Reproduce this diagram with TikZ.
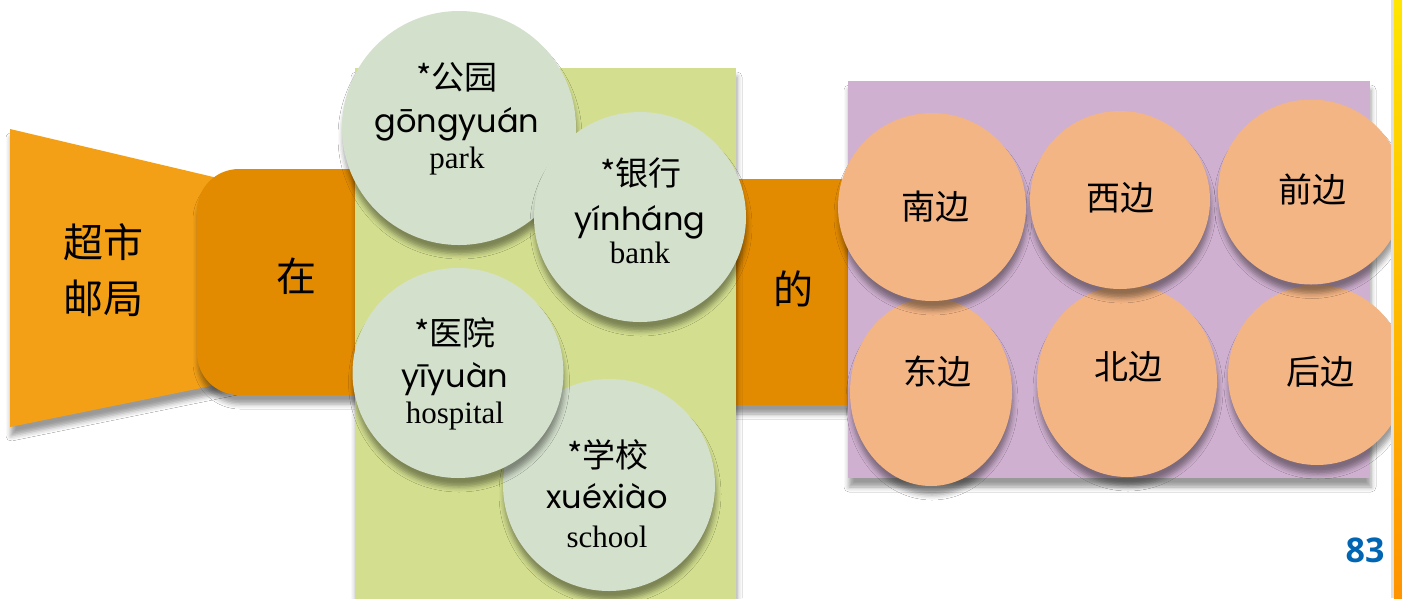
\documentclass[tikz,border=0pt]{standalone}
\usepackage{fontspec}
\newfontfamily\cjk{Noto Sans CJK SC}
\newfontfamily\pyfont{Poppins}
\newfontfamily\enfont{Liberation Serif}
\newfontfamily\numfont{Open Sans}
\usetikzlibrary{shapes.geometric,shadows.blur}
\definecolor{trapc}{HTML}{F4A016}
\definecolor{boxc}{HTML}{E38B00}
\definecolor{greenrect}{HTML}{D3DF8F}
\definecolor{greencirc}{HTML}{D3E0CC}
\definecolor{purplerect}{HTML}{CFB0D0}
\definecolor{orangecirc}{HTML}{F4B585}
\definecolor{numblue}{HTML}{0065B3}
\tikzset{
  shad/.style={blur shadow={shadow xshift=1pt, shadow yshift=-9pt, shadow blur radius=5pt, shadow opacity=40}},
  gcirc/.style={ellipse, fill=greencirc, inner sep=0pt, shad},
  ocirc/.style={ellipse, fill=orangecirc, inner sep=0pt, shad},
  cjkbig/.style={font=\cjk\fontsize{40}{48}\selectfont, inner sep=0pt},
  cjkmid/.style={font=\cjk\fontsize{33}{40}\selectfont, inner sep=0pt, anchor=base},
  cjko/.style={font=\cjk\fontsize{34}{40}\selectfont, inner sep=0pt},
  pyt/.style={font=\pyfont\fontsize{32}{40}\selectfont, inner sep=0pt, anchor=base},
  ent/.style={font=\enfont\fontsize{31}{38}\selectfont, inner sep=0pt, anchor=base},
}
\begin{document}
\begin{tikzpicture}[x=1pt,y=-1pt]
\useasboundingbox (0,0) rectangle (1402,598);
\fill[white] (0,0) rectangle (1402,598);
% left trapezoid
\fill[trapc, shad] (10,129) -- (260,188) -- (260,376) -- (10,427) -- cycle;
\node[cjkbig, align=center] (shi) at (103,270) {超市\\[8pt]邮局};
% 在 box
\fill[boxc, shad, rounded corners=42pt] (197,169) rectangle (420,395);
\node[cjkbig] (zai) at (296,276) {在};
% 的 box
\fill[boxc, shad] (700,179) rectangle (880,405);
\node[cjkbig] (de) at (793,289) {的};
% green rect
\fill[greenrect, shad] (355,68) rectangle (736,610);
% green circles
\node[gcirc, minimum width=234pt, minimum height=234pt] (gy) at (459,128) {};
\node[gcirc, minimum width=212pt, minimum height=210pt] (yh) at (640,217) {};
\node[gcirc, minimum width=212pt, minimum height=212pt] (xx) at (609,485) {};
\node[gcirc, minimum width=211pt, minimum height=210pt] (yy) at (458,373) {};
\node[cjkmid] (gyc) at (457,89) {*公园};
\node[pyt] (gyp) at (457,132) {gōngyuán};
\node[ent] (gye) at (457,168) {park};
\node[cjkmid] (yhc) at (641,185) {*银行};
\node[pyt] (yhp) at (640,230) {yínháng};
\node[ent] (yhe) at (640,263) {bank};
\node[cjkmid] (yyc) at (455,345) {*医院};
\node[pyt] (yyp) at (455,387) {yīyuàn};
\node[ent] (yye) at (455,423) {hospital};
\node[cjkmid] (xxc) at (608,467) {*学校};
\node[pyt] (xxp) at (607,508) {xuéxiào};
\node[ent] (xxe) at (607,547) {school};
% purple rect
\fill[purplerect, shad] (848,81) rectangle (1370,478);
% orange circles
\node[ocirc, minimum width=162pt, minimum height=188pt] (dong) at (931,392) {};
\node[ocirc, minimum width=188pt, minimum height=188pt] (nan) at (932,207) {};
\node[ocirc, minimum width=180pt, minimum height=192pt] (bei) at (1127,381) {};
\node[ocirc, minimum width=180pt, minimum height=178pt] (xi) at (1120,200) {};
\node[ocirc, minimum width=178pt, minimum height=180pt] (hou) at (1317,375) {};
\node[ocirc, minimum width=186pt, minimum height=185pt] (qian) at (1311,192) {};
\node[cjko] (nant) at (935,207) {南边};
\node[cjko] (xit) at (1120,198) {西边};
\node[cjko] (qiant) at (1312,190) {前边};
\node[cjko] (dongt) at (937,372) {东边};
\node[cjko] (beit) at (1128,367) {北边};
\node[cjko] (hout) at (1320,372) {后边};
% right yellow bar
\fill[black!12] (1391,0) rectangle (1394,598);
\shade[top color=yellow!80!orange, bottom color=orange!85!yellow] (1394,0) rectangle (1402,598);
% page number
\node[font=\numfont\bfseries\fontsize{34}{40}\selectfont, text=numblue, inner sep=0pt] (pg) at (1365,550) {83};
\end{tikzpicture}
\end{document}
